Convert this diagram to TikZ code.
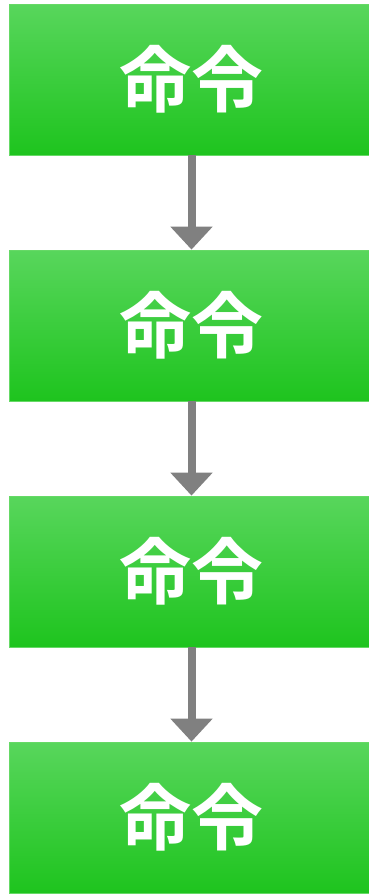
\documentclass[tikz,border=0pt]{standalone}
\usepackage{fontspec}
\newfontfamily\cjk{Noto Sans CJK JP Bold}
\usetikzlibrary{arrows.meta}
\definecolor{gtop}{HTML}{58D65C}
\definecolor{gbot}{HTML}{1EC41E}
\definecolor{gedge}{HTML}{66D966}
\definecolor{arr}{HTML}{808080}
\tikzset{
  cmdbox/.style={rectangle, minimum width=365pt, minimum height=151pt, inner sep=0pt,
    top color=gtop, bottom color=gbot, draw=gedge, line width=0.8pt,
    text=white, font=\cjk\fontsize{72}{80}\selectfont},
  flow/.style={draw=arr, line width=8pt, -{Triangle[width=41pt,length=23pt]}, shorten >=0pt}
}
\begin{document}
\begin{tikzpicture}[x=1pt,y=-1pt]
\useasboundingbox (0,0) rectangle (369,894);
\clip (0,0) rectangle (369,894);
\node[cmdbox] (b1) at (191.5,79.5) {\raisebox{-4pt}{命令}};
\node[cmdbox] (b2) at (191.5,325.5) {\raisebox{-4pt}{命令}};
\node[cmdbox] (b3) at (191.5,571.5) {\raisebox{-4pt}{命令}};
\node[cmdbox] (b4) at (191.5,817.5) {\raisebox{-4pt}{命令}};
\draw[flow] (b1.south) -- (b2.north);
\draw[flow] (b2.south) -- (b3.north);
\draw[flow] (b3.south) -- (b4.north);
\end{tikzpicture}
\end{document}
